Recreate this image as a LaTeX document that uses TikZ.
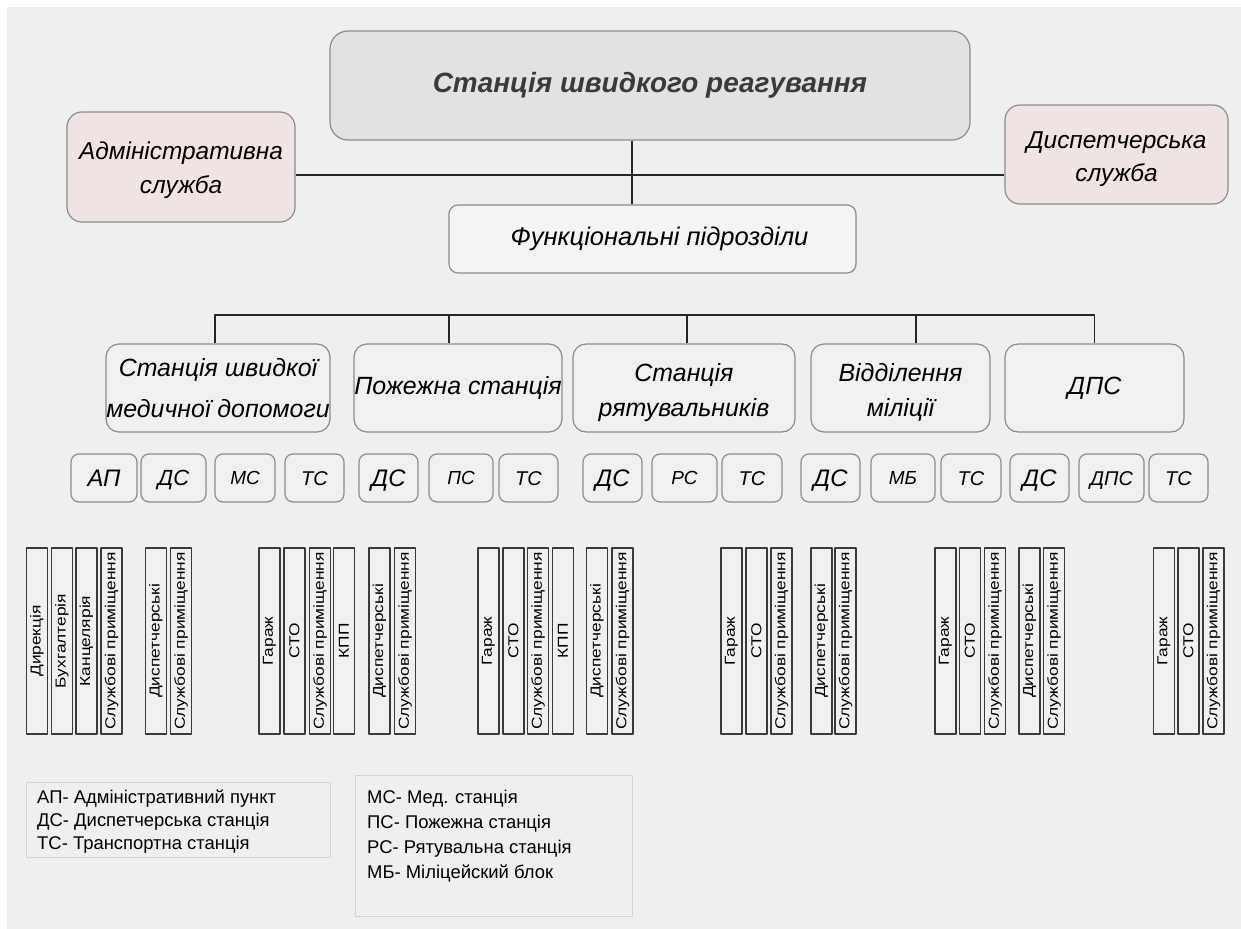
\documentclass[tikz,border=0pt]{standalone}
\usepackage{fontspec}
\setmainfont{Liberation Sans}
\newfontfamily\roomfont{Liberation Sans}[FakeStretch=1.2]
\definecolor{bgfill}{HTML}{EFEFEF}
\definecolor{headfill}{HTML}{E3E2E1}
\definecolor{sidefill}{HTML}{EFE3E3}
\definecolor{funcfill}{HTML}{F4F4F4}
\definecolor{unitfill}{HTML}{F0F0F0}
\definecolor{boxline}{HTML}{8C8C8C}
\definecolor{roomline}{HTML}{3A3A3A}
\definecolor{legline}{HTML}{D6D2CE}
\definecolor{linkcol}{HTML}{262626}
\definecolor{titlecol}{HTML}{3A3A3A}
\begin{document}
\begin{tikzpicture}[>=latex,line join=bevel,x=1bp,y=-1bp,
  box/.style={draw=boxline,line width=1.2bp,rounded corners=9bp,inner sep=0pt},
  head/.style={box,fill=headfill,rounded corners=18bp,minimum width=640bp,minimum height=109bp,text=titlecol,font=\bfseries\itshape\fontsize{28}{34}\selectfont},
  side/.style={box,fill=sidefill,rounded corners=15bp,align=center,font=\itshape\fontsize{24.5}{34}\selectfont},
  station/.style={box,fill=unitfill,rounded corners=13bp,minimum height=88bp,align=center,font=\itshape\fontsize{25}{35}\selectfont},
  unit/.style={box,fill=unitfill,rounded corners=8bp,minimum height=48bp,text height=14.3bp,text depth=0pt,font=\itshape\fontsize{20}{24}\selectfont},
  unitbig/.style={unit,text height=17.2bp,font=\itshape\fontsize{24}{28}\selectfont},
  unitmid/.style={unit,text height=15.8bp,font=\itshape\fontsize{22}{26}\selectfont},
  unitsmall/.style={unit,text height=13.6bp,font=\itshape\fontsize{19}{24}\selectfont},
  room/.style={draw=roomline,line width=1.2bp,fill=unitfill,rotate=90,minimum width=186bp,minimum height=21bp,inner sep=0pt,font=\roomfont\fontsize{14.5}{16}\selectfont},
  legend/.style={draw=legline,line width=1bp,fill=bgfill,inner sep=0pt,anchor=north west},
  legtext/.style={anchor=north west,align=left,inner sep=0pt},
  link/.style={draw=linkcol,line width=1.1bp},
]
\useasboundingbox (0,0) rectangle (1241,929);
\fill [white] (0,0) rectangle (1241,929);
\fill [bgfill] (7,7) rectangle (1241,929);
%%
\node (node_root) at (650,85.5) [head] {Станція швидкого реагування};
\node (node_adm) at (181,167) [side,minimum width=228bp,minimum height=110bp,text height=58bp] {Адміністративна\\служба};
\node (node_disp) at (1116.5,154.5) [side,minimum width=223bp,minimum height=99bp,text height=60bp] {Диспетчерська\\служба};
\node (node_func) at (652.5,239) [box,fill=funcfill,minimum width=407bp,minimum height=68bp,font=\itshape\fontsize{25.6}{30}\selectfont] {\hspace*{14bp}Функціональні підрозділи};
\coordinate (hub) at (632,175);
\draw [link] (node_root.south -| hub) -- (node_func.north -| hub);
\draw [link] (node_adm.east |- hub) -- (node_disp.west |- hub);
%
\node (node_st1) at (218,388) [station,minimum width=224bp,font=\itshape\fontsize{25}{41}\selectfont] {Станція швидкої\\медичної допомоги};
\node (node_st2) at (458,388) [station,minimum width=208bp] {Пожежна станція};
\node (node_st3) at (684,388) [station,minimum width=222bp,text height=62bp] {Станція\\рятувальників};
\node (node_st4) at (900.5,388) [station,minimum width=179bp,text height=62bp] {Відділення\\міліції};
\node (node_st5) at (1094.5,388) [station,minimum width=179bp] {ДПС};
\coordinate (bus) at (0,315);
\draw [link] ([xshift=-3bp]node_st1.north) |- (bus -| node_st5.north) -- (node_st5.north);
\draw [link] ([xshift=-9bp]node_st2.north) |- (bus -| node_st1.north);
\draw [link] ([xshift=3bp]node_st3.north) |- (bus -| node_st1.north);
\draw [link] ([xshift=15.5bp]node_st4.north) |- (bus -| node_st1.north);
%
\node (node_u1) at (104,478) [unitbig,minimum width=66bp] {АП};
\node (node_u2) at (173.5,478) [unitmid,minimum width=65bp] {ДС};
\node (node_u3) at (245,478) [unitsmall,minimum width=60bp] {МС};
\node (node_u4) at (314.5,478) [unit,minimum width=59bp] {ТС};
\node (node_u5) at (388.5,478) [unitbig,minimum width=59bp] {ДС};
\node (node_u6) at (461,478) [unitsmall,minimum width=64bp] {ПС};
\node (node_u7) at (528.5,478) [unit,minimum width=59bp] {ТС};
\node (node_u8) at (612.5,478) [unitbig,minimum width=59bp] {ДС};
\node (node_u9) at (684.5,478) [unitsmall,minimum width=65bp] {РС};
\node (node_u10) at (752,478) [unit,minimum width=60bp] {ТС};
\node (node_u11) at (830.5,478) [unitbig,minimum width=59bp] {ДС};
\node (node_u12) at (903,478) [unitsmall,minimum width=64bp] {МБ};
\node (node_u13) at (971,478) [unit,minimum width=60bp] {ТС};
\node (node_u14) at (1039.5,478) [unitbig,minimum width=59bp] {ДС};
\node (node_u15) at (1111.5,478) [unit,minimum width=65bp] {ДПС};
\node (node_u16) at (1178.5,478) [unit,minimum width=59bp] {ТС};
%
\node (node_r1) at (37,641) [room] {Дирекція};
\node (node_r2) at (62,641) [room] {Бухгалтерія};
\node (node_r3) at (86.5,641) [room] {Канцелярія};
\node (node_r4) at (111.5,641) [room] {Службові приміщення};
\node (node_r5) at (156,641) [room] {Диспетчерські};
\node (node_r6) at (181,641) [room] {Службові приміщення};
\node (node_r7) at (269.5,641) [room] {Гараж};
\node (node_r8) at (294.5,641) [room] {СТО};
\node (node_r9) at (320,641) [room] {Службові приміщення};
\node (node_r10) at (344,641) [room] {КПП};
\node (node_r11) at (379.5,641) [room] {Диспетчерські};
\node (node_r12) at (405,641) [room] {Службові приміщення};
\node (node_r13) at (488.5,641) [room] {Гараж};
\node (node_r14) at (513.5,641) [room] {СТО};
\node (node_r15) at (538,641) [room] {Службові приміщення};
\node (node_r16) at (563,641) [room] {КПП};
\node (node_r17) at (597,641) [room] {Диспетчерські};
\node (node_r18) at (622.5,641) [room] {Службові приміщення};
\node (node_r19) at (731.5,641) [room] {Гараж};
\node (node_r20) at (756.5,641) [room] {СТО};
\node (node_r21) at (781.5,641) [room] {Службові приміщення};
\node (node_r22) at (821.5,641) [room] {Диспетчерські};
\node (node_r23) at (845.5,641) [room] {Службові приміщення};
\node (node_r24) at (945.5,641) [room] {Гараж};
\node (node_r25) at (970,641) [room] {СТО};
\node (node_r26) at (995,641) [room] {Службові приміщення};
\node (node_r27) at (1029.5,641) [room] {Диспетчерські};
\node (node_r28) at (1054,641) [room] {Службові приміщення};
\node (node_r29) at (1164,641) [room] {Гараж};
\node (node_r30) at (1188.5,641) [room] {СТО};
\node (node_r31) at (1213.5,641) [room] {Службові приміщення};
%
\node (node_leg1) at (26,782) [legend,minimum width=304bp,minimum height=75bp] {};
\node (node_leg1_txt) at (37,790) [legtext,font=\fontsize{18.5}{23}\selectfont] {АП- Адміністративний пункт\\ДС- Диспетчерська станція\\ТС- Транспортна станція};
\node (node_leg2) at (355,775) [legend,minimum width=277bp,minimum height=141bp] {};
\node (node_leg2_txt) at (367,790) [legtext,font=\fontsize{18.5}{25}\selectfont] {МС- Мед. станція\\ПС- Пожежна станція\\РС- Рятувальна станція\\МБ- Міліцейский блок};
%
\end{tikzpicture}
\end{document}
